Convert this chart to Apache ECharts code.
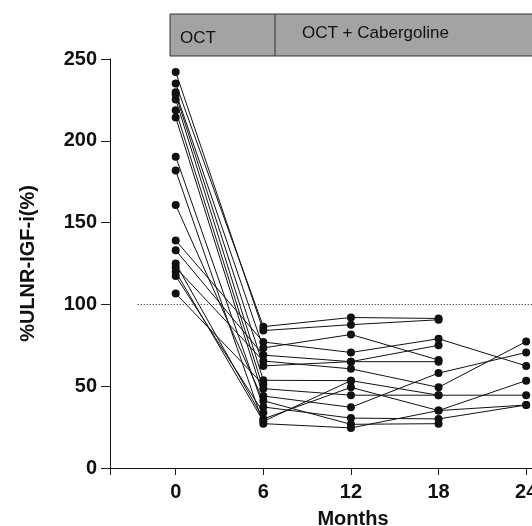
<!DOCTYPE html>
<html>
<head>
<meta charset="utf-8">
<script src="https://cdn.jsdelivr.net/npm/echarts@6/dist/echarts.min.js"></script>
<style>
  html, body { margin: 0; padding: 0; background: #fff; }
  #chart { width: 532px; height: 526px; }
</style>
</head>
<body>
<div id="chart"></div>
<script>
    // one entry per patient, null = no measurement at that visit
    var months = [0, 6, 12, 18, 24];
    var month0 = [242, 235, 229.7, 228.3, 225.3, 218.7, 214.3, 190.3, 181.8, 160.8, 139.1, 133.1, 125, 122.6, 120, 117.4, 106.6];
    var month6 = [84, 86.4, 73.4, 62.4, 53.6, 48.5, 44, 37.3, 27.1, 41.1, 77, 69, 30, 65.4, 28.5, 33.8, 51];
    var month12 = [87.6, 92, 81.6, 65, 53.4, 44.5, 37.1, 30.5, 24.5, 26.7, 70.6, 65, 49.3, 60.6, 53.4, null, null];
    var month18 = [90.6, 91.4, 66, 65, 44.5, 44.5, 58, 30, 35.1, 27.1, 79, 75, 35.1, 49.3, null, null, null];
    var month24 = [null, null, null, null, null, 44.5, 70.6, 38.5, 38.5, null, 62.4, null, 53.4, 77.3, null, null, null];
    var yTicks = [0, 50, 100, 150, 200, 250];
    var normalLimit = 100;

    var visits = [month0, month6, month12, month18, month24];
    var font = "'Liberation Sans', Arial, Helvetica, sans-serif";
    var xMin = -4.5, xMax = 24.4;

    var series = [];
    for (var i = 0; i < month0.length; i++) {
        var pts = [];
        for (var j = 0; j < visits.length; j++) {
            if (visits[j][i] != null) {
                pts.push([months[j], visits[j][i]]);
            }
        }
        series.push({
            type: 'line',
            data: pts,
            symbol: 'circle',
            symbolSize: 8,
            itemStyle: {color: '#111'},
            lineStyle: {color: '#111', width: 1},
            clip: false,
            animation: false,
            z: 3
        });
    }
    // dotted reference at 100 %
    series[0].markLine = {
        silent: true,
        symbol: 'none',
        label: {show: false},
        lineStyle: {type: [1, 2], color: '#222', width: 1},
        data: [[{coord: [-2.6, normalLimit]}, {coord: [xMax, normalLimit]}]]
    };

    var chart = echarts.init(document.getElementById('chart'));
    chart.setOption({
        backgroundColor: '#fff',
        animation: false,
        grid: {left: 110, right: 0, top: 59, bottom: 58, containLabel: false, outerBoundsMode: 'none'},
        xAxis: {
            type: 'value',
            min: xMin,
            max: xMax,
            name: 'Months',
            nameLocation: 'middle',
            nameGap: 41,
            nameTextStyle: {fontFamily: font, fontSize: 20, fontWeight: 'bold', color: '#111', padding: [0, 0, 0, 64]},
            axisLine: {show: true, onZero: false, lineStyle: {color: '#111', width: 1}},
            axisTick: {show: true, length: 7, lineStyle: {color: '#222'}, customValues: [xMin].concat(months)},
            axisLabel: {fontFamily: font, fontSize: 20, fontWeight: 'bold', color: '#111', margin: 14, customValues: months},
            splitLine: {show: false}
        },
        yAxis: {
            type: 'value',
            min: 0,
            max: 250,
            interval: 50,
            name: '%ULNR-IGF-i(%)',
            nameLocation: 'middle',
            nameGap: 72,
            nameTextStyle: {fontFamily: font, fontSize: 20, fontWeight: 'bold', color: '#111'},
            axisLine: {show: true, onZero: false, lineStyle: {color: '#111', width: 1}},
            axisTick: {show: true, length: 9, lineStyle: {color: '#222'}},
            axisLabel: {fontFamily: font, fontSize: 20, fontWeight: 'bold', color: '#111', margin: 13, customValues: yTicks},
            splitLine: {show: false}
        },
        graphic: [
            {
                type: 'rect',
                shape: {x: 170, y: 14, width: 370, height: 42},
                style: {fill: '#a3a3a3', stroke: '#333', lineWidth: 1}
            },
            {
                type: 'line',
                shape: {x1: 275, y1: 14, x2: 275, y2: 56},
                style: {stroke: '#333', lineWidth: 1}
            },
            {
                type: 'text',
                x: 180, y: 38,
                style: {text: 'OCT', font: '17px ' + font, fill: '#111', verticalAlign: 'middle'}
            },
            {
                type: 'text',
                x: 302, y: 33,
                style: {text: 'OCT + Cabergoline', font: '17px ' + font, fill: '#111', verticalAlign: 'middle'}
            }
        ],
        series: series
    });
</script>
</body>
</html>
